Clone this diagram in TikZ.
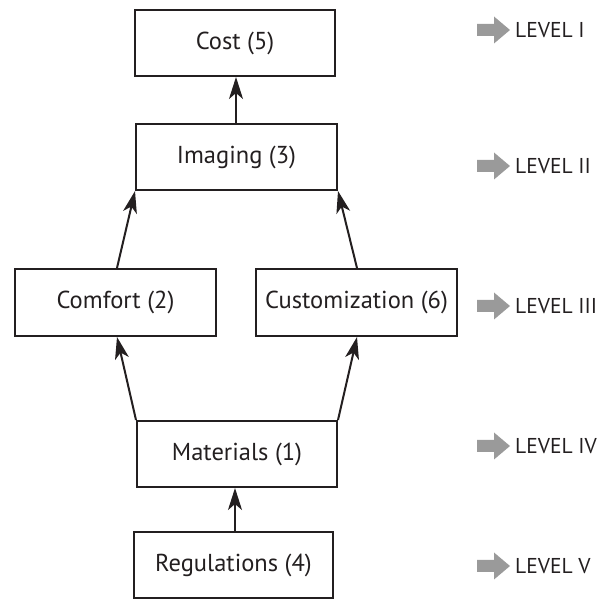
\documentclass[tikz,border=0pt]{standalone}
\usepackage{fontspec}
\setmainfont{PT Sans}
\usetikzlibrary{arrows.meta,calc}

\definecolor{ink}{HTML}{231F20}
\definecolor{levelgray}{HTML}{9A9A9A}

\tikzset{
  factor/.style={draw=ink, line width=2pt, rectangle, inner sep=0pt,
    minimum width=200pt, minimum height=66pt, text=ink,
    font=\fontsize{24.5}{29}\selectfont},
  link/.style={draw=ink, line width=2pt,
    -{Stealth[length=22pt, width=14pt, inset=6pt]}},
  leveltext/.style={anchor=west, text=ink, inner sep=0pt,
    font=\fontsize{21.5}{25}\selectfont},
}

\begin{document}
\begin{tikzpicture}[x=1pt, y=-1pt]
  \useasboundingbox (0,0) rectangle (603,601);

  % factor boxes
  \node[factor] (cost) at (235,43) {Cost (5)};
  \node[factor, minimum width=201pt] (imaging) at (236.5,157) {Imaging (3)};
  \node[factor, minimum width=201pt, minimum height=67pt] (comfort) at (115.5,302.5) {Comfort (2)};
  \node[factor, minimum width=201pt, minimum height=67pt] (custom) at (356.5,302.5) {Customization (6)};
  \node[factor] (materials) at (237,454) {Materials (1)};
  \node[factor, minimum width=199pt] (regs) at (233.5,565) {Regulations (4)};

  % influence links
  \draw[link] ([xshift=1.5pt]regs.north) -- ([xshift=1.5pt]regs.north |- materials.south);
  \draw[link] (materials.north west) -- ([xshift=1.5pt]comfort.south);
  \draw[link] (materials.north east) -- ([xshift=0.5pt]custom.south);
  \draw[link] ([xshift=1.5pt]comfort.north) -- (imaging.south west);
  \draw[link] ([xshift=0.5pt]custom.north) -- (imaging.south east);
  \draw[link] ([xshift=-0.5pt]imaging.north) -- ([xshift=-0.5pt]imaging.north |- cost.south);

  % level markers
  \foreach \yy/\lab/\nm in {30/I/lvA, 166/II/lvB, 306/III/lvC, 446/IV/lvD, 566/V/lvE}{
    \fill[levelgray] (477,\yy-6) -- (494,\yy-6) -- (494,\yy-13.5) -- (510,\yy)
      -- (494,\yy+13.5) -- (494,\yy+6) -- (477,\yy+6) -- cycle;
    \node[leveltext] (\nm) at (515,\yy) {LEVEL \lab};
  }
\end{tikzpicture}
\end{document}
